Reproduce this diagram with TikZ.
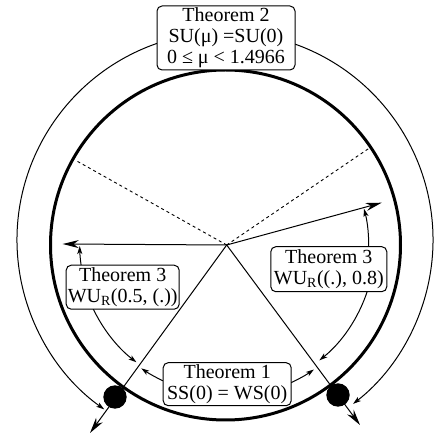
\documentclass[tikz,border=0pt]{standalone}
\usepackage{fontspec}
\setmainfont{Liberation Serif}
\usetikzlibrary{arrows.meta,calc}
\begin{document}
\begin{tikzpicture}[x=1pt,y=1pt,
  thm/.style={draw, rounded corners=5pt, fill=white, align=center,
    font=\fontsize{20}{21}\selectfont, inner sep=0pt, line width=1pt},
  bigarr/.style={-{Stealth[length=16pt,width=8pt,inset=5pt]}, line width=1pt},
  smallarr/.style={-{Stealth[length=8pt,width=5pt,inset=2pt]}, line width=1pt},
  dotnode/.style={circle, fill=black, minimum size=23.4pt, inner sep=0pt},
]
\useasboundingbox (0,0) rectangle (437,434);
\coordinate (c) at (226.7,189);
\coordinate (o) at (225.5,189);
\coordinate (oc) at (225,194);
% thick circle
\draw[line width=3pt] (o) circle[radius=175];
% outer arcs
\draw[smallarr] ([shift={(100:208)}]oc) arc[start angle=100,end angle=234.5,radius=208];
\draw[smallarr] ([shift={(80:208)}]oc) arc[start angle=80,end angle=-52,radius=208];
% line ends
\coordinate (tl) at (62.7,190);
\coordinate (tur) at (381.7,231.3);
\coordinate (tdl) at (90,1);
\coordinate (tdr) at (360,9);
\coordinate (dul) at (75,274);
\coordinate (dur) at (369,285.7);
\draw[bigarr] (c) -- (tl);
\draw[bigarr] (c) -- (tur);
\draw[bigarr] (c) -- (tdl);
\draw[bigarr] (c) -- (tdr);
\draw[dash pattern=on 3pt off 3pt, line width=0.9pt] (c) -- (dul);
\draw[dash pattern=on 3pt off 3pt, line width=0.9pt] (c) -- (dur);
% inner arcs
\draw[smallarr] ([shift={(188:147)}]c) arc[start angle=188,end angle=180.4,radius=147];
\draw[smallarr] ([shift={(205:148)}]c) arc[start angle=205,end angle=232.4,radius=148];
\draw[smallarr] ([shift={(245:150)}]c) arc[start angle=245,end angle=235.3,radius=150];
\draw[smallarr] ([shift={(295:152)}]c) arc[start angle=295,end angle=305,radius=152];
\draw[smallarr] ([shift={(342:148)}]c) arc[start angle=342,end angle=308.8,radius=148];
\draw[smallarr] ([shift={(-2:142)}]c) arc[start angle=-2,end angle=14.8,radius=142];
% boxes
\node[thm, minimum width=138pt, minimum height=64pt] (t2) at (226,396)
  {Theorem 2\\SU(μ) =SU(0)\\0 ≤ μ < 1.4966};
\node[thm, minimum width=113pt, minimum height=44pt] (t3l) at (122.7,146.8)
  {Theorem 3\\WU\textsubscript{R}(0.5, (.))};
\node[thm, minimum width=116pt, minimum height=45pt] (t3r) at (328.8,164.8)
  {Theorem 3\\WU\textsubscript{R}((.), 0.8)};
\node[thm, minimum width=128pt, minimum height=43pt] (t1) at (227.2,49.8)
  {Theorem 1\\SS(0) = WS(0)};
% dots
\node[dotnode] (d1) at (115,37) {};
\node[dotnode] (d2) at (338,39) {};
\end{tikzpicture}
\end{document}
